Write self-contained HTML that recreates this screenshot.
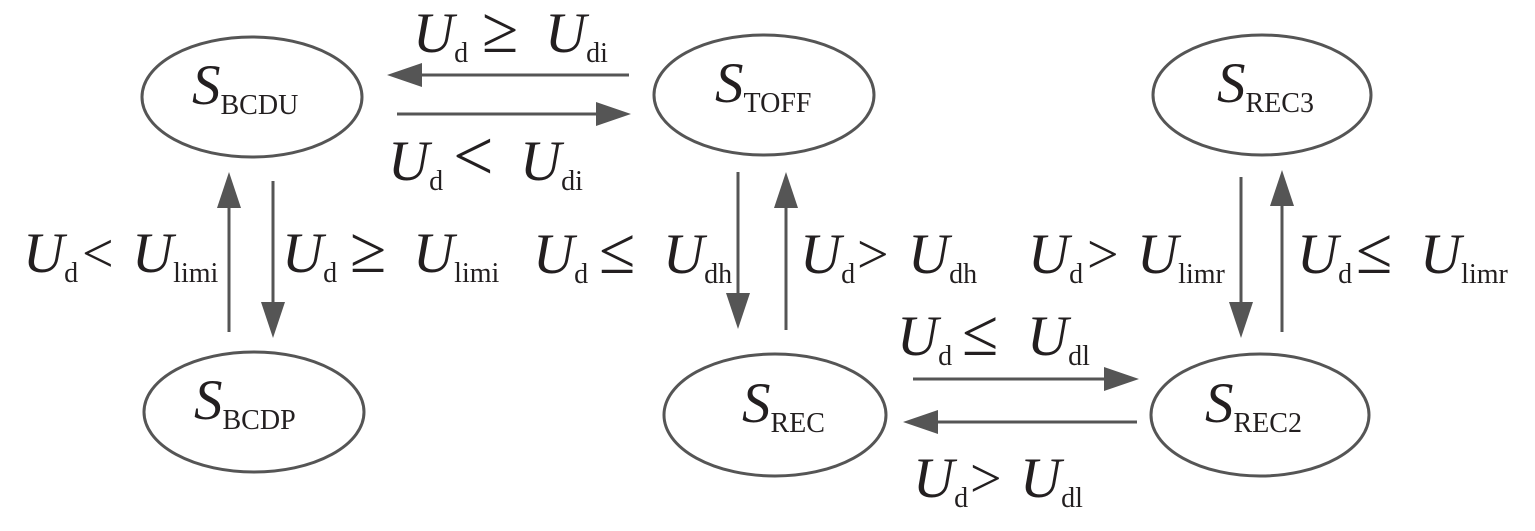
<!DOCTYPE html>
<html><head><meta charset="utf-8"><style>
html,body{margin:0;padding:0;background:#fff;}
svg{display:block;}
text{font-family:"Liberation Serif","DejaVu Serif",serif;fill:#231f20;}
.m{font-size:57px;font-style:italic;}
.s{font-size:28px;font-style:normal;}
.o{font-size:66px;font-style:normal;}
.c{font-size:56px;font-style:normal;}
</style></head><body>
<svg width="1535" height="531" viewBox="0 0 1535 531" xmlns="http://www.w3.org/2000/svg">
<g fill="none" stroke="#555" stroke-width="3">
<ellipse cx="252" cy="97" rx="110" ry="60"/>
<ellipse cx="764" cy="95" rx="110" ry="60"/>
<ellipse cx="1262" cy="95" rx="109" ry="60"/>
<ellipse cx="254" cy="412" rx="110" ry="60"/>
<ellipse cx="775" cy="415" rx="111" ry="61"/>
<ellipse cx="1260" cy="415" rx="109" ry="61"/>
</g>
<g stroke="#555" stroke-width="3">
<line x1="629" y1="75" x2="415" y2="75"/>
<line x1="397" y1="114" x2="600" y2="114"/>
<line x1="229" y1="332" x2="229" y2="200"/>
<line x1="273" y1="181" x2="273" y2="305"/>
<line x1="738" y1="172" x2="738" y2="295"/>
<line x1="786" y1="330" x2="786" y2="200"/>
<line x1="1241" y1="177" x2="1241" y2="305"/>
<line x1="1282" y1="332" x2="1282" y2="200"/>
<line x1="913" y1="379" x2="1105" y2="379"/>
<line x1="1137" y1="422" x2="935" y2="422"/>
</g>
<g fill="#555">
<polygon points="387,75 422,63 422,87"/>
<polygon points="631,114 596,102 596,126"/>
<polygon points="229,172 217,208 241,208"/>
<polygon points="273,338 261,302 285,302"/>
<polygon points="738,329 726,293 750,293"/>
<polygon points="786,172 774,208 798,208"/>
<polygon points="1241,338 1229,302 1253,302"/>
<polygon points="1282,170 1270,206 1294,206"/>
<polygon points="1139,379 1104,367 1104,391"/>
<polygon points="903,422 938,410 938,434"/>
</g>
<!-- node labels -->
<text x="192" y="104" class="m">S<tspan class="s" dy="10">BCDU</tspan></text>
<text x="715" y="102" class="m">S<tspan class="s" dy="10">TOFF</tspan></text>
<text x="1217" y="102" class="m">S<tspan class="s" dy="10">REC3</tspan></text>
<text x="194" y="419" class="m">S<tspan class="s" dy="10">BCDP</tspan></text>
<text x="742" y="422" class="m">S<tspan class="s" dy="10">REC</tspan></text>
<text x="1205" y="422" class="m">S<tspan class="s" dy="10">REC2</tspan></text>
<!-- edge labels -->
<text y="52"><tspan x="413" class="m">U</tspan><tspan class="s" dy="10">d</tspan><tspan x="482" dy="-10" class="o">≥</tspan><tspan x="545" class="m">U</tspan><tspan class="s" dy="10">di</tspan></text>
<text y="180"><tspan x="388" class="m">U</tspan><tspan class="s" dy="10">d</tspan><tspan x="453" dy="-10" class="o" style="font-size:72px">&lt;</tspan><tspan x="520" class="m">U</tspan><tspan class="s" dy="10">di</tspan></text>
<text y="272"><tspan x="23" class="m">U</tspan><tspan class="s" dy="10">d</tspan><tspan x="82" dy="-10" class="c">&lt;</tspan><tspan x="132" class="m">U</tspan><tspan class="s" dy="10">limi</tspan></text>
<text y="272"><tspan x="282" class="m">U</tspan><tspan class="s" dy="10">d</tspan><tspan x="350" dy="-10" class="o">≥</tspan><tspan x="413" class="m">U</tspan><tspan class="s" dy="10">limi</tspan></text>
<text y="273"><tspan x="533" class="m">U</tspan><tspan class="s" dy="10">d</tspan><tspan x="599" dy="-10" class="o">≤</tspan><tspan x="663" class="m">U</tspan><tspan class="s" dy="10">dh</tspan></text>
<text y="273"><tspan x="857" class="c" style="font-size:56px">&gt;</tspan></text>
<text y="273"><tspan x="800" class="m">U</tspan><tspan class="s" dy="10">d</tspan><tspan x="908" dy="-10" class="m">U</tspan><tspan class="s" dy="10">dh</tspan></text>
<text y="273"><tspan x="1087" class="c">&gt;</tspan></text>
<text y="273"><tspan x="1028" class="m">U</tspan><tspan class="s" dy="10">d</tspan><tspan x="1137" dy="-10" class="m">U</tspan><tspan class="s" dy="10">limr</tspan></text>
<text y="273"><tspan x="1297" class="m">U</tspan><tspan class="s" dy="10">d</tspan><tspan x="1356" dy="-10" class="o">≤</tspan><tspan x="1420" class="m">U</tspan><tspan class="s" dy="10">limr</tspan></text>
<text y="355"><tspan x="897" class="m">U</tspan><tspan class="s" dy="10">d</tspan><tspan x="962" dy="-10" class="o">≤</tspan><tspan x="1027" class="m">U</tspan><tspan class="s" dy="10">dl</tspan></text>
<text y="497"><tspan x="970" class="c">&gt;</tspan></text>
<text y="497"><tspan x="913" class="m">U</tspan><tspan class="s" dy="10">d</tspan><tspan x="1020" dy="-10" class="m">U</tspan><tspan class="s" dy="10">dl</tspan></text>
</svg>
</body></html>
